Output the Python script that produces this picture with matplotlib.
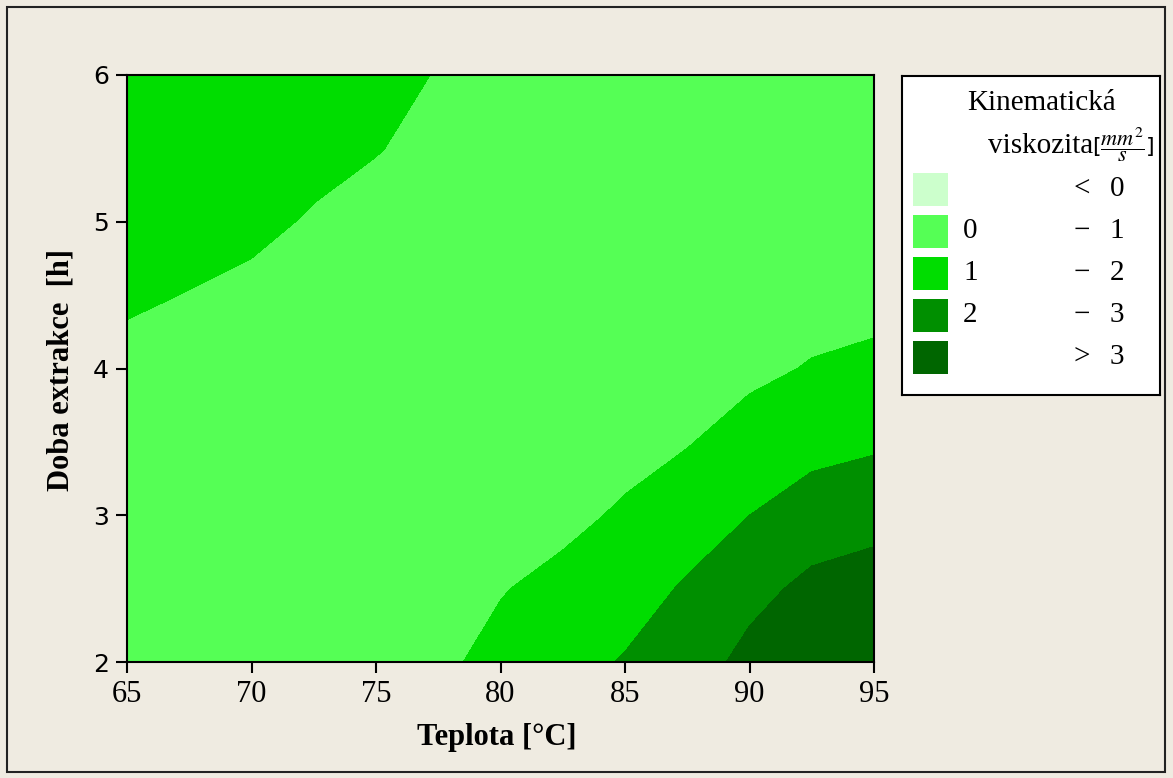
import numpy as np
import matplotlib
matplotlib.use("Agg")
from matplotlib import pyplot as plt
from matplotlib.patches import Rectangle

plt.rcParams['mathtext.fontset'] = 'stix'

# grid of the response surface
teplota = [65, 67.5, 70, 72.5, 75, 77.5, 80, 82.5, 85, 87.5, 90, 92.5, 95]
doba = [2, 2.5, 3, 3.5, 4, 4.5, 5, 5.5, 6]
viskozita = [
    [0.30, 0.40, 0.50, 0.60, 0.72, 0.86, 1.21, 1.64, 2.07, 2.50, 3.30, 4.00, 4.40],
    [0.40, 0.45, 0.50, 0.58, 0.66, 0.75, 0.96, 1.21, 1.58, 2.11, 2.69, 3.25, 3.48],
    [0.50, 0.52, 0.55, 0.58, 0.60, 0.65, 0.75, 0.81, 1.10, 1.53, 2.00, 2.44, 2.64],
    [0.60, 0.58, 0.57, 0.56, 0.55, 0.55, 0.60, 0.65, 0.75, 0.95, 1.38, 1.70, 1.86],
    [0.80, 0.75, 0.70, 0.65, 0.60, 0.55, 0.52, 0.55, 0.60, 0.70, 0.80, 1.06, 1.23],
    [1.10, 0.98, 0.88, 0.80, 0.72, 0.60, 0.50, 0.50, 0.50, 0.55, 0.60, 0.65, 0.68],
    [1.35, 1.25, 1.12, 0.95, 0.85, 0.70, 0.60, 0.55, 0.50, 0.50, 0.50, 0.50, 0.55],
    [1.55, 1.45, 1.35, 1.15, 1.02, 0.88, 0.70, 0.60, 0.55, 0.50, 0.50, 0.50, 0.50],
    [1.70, 1.60, 1.50, 1.35, 1.20, 0.97, 0.85, 0.70, 0.60, 0.55, 0.50, 0.50, 0.50],
]

levels = [-10, 0, 1, 2, 3, 10]
colors = ['#ccffcc', '#55ff55', '#00dd00', '#008f00', '#006600']
leg_left = ['', '0', '1', '2', '']
leg_mid = ['<', '\u2212', '\u2212', '\u2212', '>']
leg_right = ['0', '1', '2', '3', '3']

xticks = [65, 70, 75, 80, 85, 90, 95]
yticks = [2, 3, 4, 5, 6]

W, H = 1173, 778
bg = '#efebe1'
fig = plt.figure(figsize=(W / 100, H / 100), dpi=100, facecolor=bg)

# outer frame
fig.patches.append(Rectangle((7 / W, 1 - 772 / H), (1165 - 7) / W, (772 - 7) / H,
                             transform=fig.transFigure, fill=False,
                             edgecolor='#222222', linewidth=1.5))

ax = fig.add_axes([127 / W, 1 - 662 / H, (874 - 127) / W, (662 - 75) / H])
X, Y = np.meshgrid(teplota, doba)
ax.contourf(X, Y, np.array(viskozita), levels=levels, colors=colors)
ax.set_xlim(65, 95)
ax.set_ylim(2, 6)
ax.set_xticks(xticks)
ax.set_yticks(yticks)
ax.set_xticklabels([str(v) for v in xticks], family='Liberation Serif', fontsize=22)
ax.set_yticklabels([str(v) for v in yticks], family='DejaVu Sans', fontsize=18)
ax.tick_params(direction='out', length=8, width=1.5, pad=5)
for s in ax.spines.values():
    s.set_linewidth(1.5)

fig.text(497 / W, 1 - 738 / H, 'Teplota [°C]', family='Liberation Serif',
         fontweight='bold', fontsize=22, ha='center', va='center')
fig.text(61 / W, 1 - 370 / H, 'Doba extrakce  [h]', family='Liberation Serif',
         fontweight='bold', fontsize=22, ha='center', va='center', rotation=90)

# legend box
lx0, ly0, lx1, ly1 = 902, 76, 1160, 395
lax = fig.add_axes([lx0 / W, 1 - ly1 / H, (lx1 - lx0) / W, (ly1 - ly0) / H])
lax.set_xlim(lx0, lx1)
lax.set_ylim(ly1, ly0)
lax.set_xticks([])
lax.set_yticks([])
lax.set_facecolor('white')
for s in lax.spines.values():
    s.set_linewidth(1.5)

lax.text(1042, 103, 'Kinematická', family='Liberation Serif', fontsize=21,
         ha='center', va='center')
lax.text(1093, 146, 'viskozita', family='Liberation Serif', fontsize=21,
         ha='right', va='center')
lax.text(1092, 145, r'[$\dfrac{mm^2}{s}$]', fontsize=16, ha='left', va='center')

for i, c in enumerate(colors):
    yc = 189 + 42 * i
    lax.add_patch(Rectangle((913, yc - 16), 35, 33, facecolor=c, edgecolor='none'))
    lax.text(963, yc, leg_left[i], family='Liberation Serif', fontsize=21, ha='left', va='center')
    lax.text(1082, yc, leg_mid[i], family='Liberation Serif', fontsize=21, ha='center', va='center')
    lax.text(1117, yc, leg_right[i], family='Liberation Serif', fontsize=21, ha='center', va='center')

fig.savefig('out.png', dpi=100, facecolor=bg)
